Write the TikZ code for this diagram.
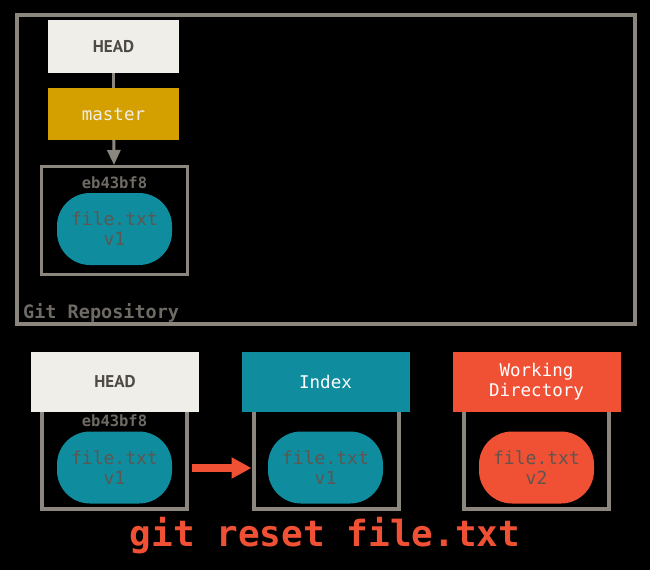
\documentclass[tikz,border=0pt]{standalone}
\usepackage{fontspec}
\setsansfont{PT Sans}
\setmonofont{DejaVu Sans Mono}
\usetikzlibrary{arrows.meta}

\definecolor{gitgray}{HTML}{8C877E}
\definecolor{headfill}{HTML}{F0EEE8}
\definecolor{headtext}{HTML}{4E4A45}
\definecolor{masterfill}{HTML}{D3A000}
\definecolor{teal}{HTML}{0F8C9E}
\definecolor{gitred}{HTML}{F05033}
\definecolor{blobtext}{HTML}{5E5650}
\definecolor{shagray}{HTML}{6E6A64}

\begin{document}
\begin{tikzpicture}[x=1pt,y=-1pt,
    lbl/.style={minimum width=168pt,minimum height=60pt,inner sep=0pt,
      font=\ttfamily\fontsize{17.5}{20}\selectfont,text=white,align=center},
    headlbl/.style={lbl,fill=headfill,text=headtext,
      font=\sffamily\bfseries\fontsize{17}{20}\selectfont},
    tree/.style={draw=gitgray,line width=4pt,minimum width=145pt,
      minimum height=114pt,inner sep=0pt},
    blob/.style={rectangle,rounded corners=33pt,minimum width=115pt,
      minimum height=72pt,inner sep=0pt,
      font=\ttfamily\fontsize{18}{20}\selectfont,text=blobtext,align=center},
    sha/.style={inner sep=0pt,font=\ttfamily\bfseries\fontsize{15.5}{15}\selectfont,text=shagray}]

  \fill[black] (0,0) rectangle (650,570);

  % repository
  \draw[gitgray,line width=4pt] (17,15) rectangle (635,324);
  \node[headlbl,minimum width=131pt,minimum height=53pt] (head) at (113.5,46.5) {HEAD};
  \node[lbl,fill=masterfill,text=headfill,minimum width=131pt,minimum height=52pt] (master) at (113.5,114) {master};
  \node[tree,line width=3pt,minimum width=146pt,minimum height=108pt] (commit) at (114.5,220.5) {};
  \node[sha] (csha) at (114.5,183) {eb43bf8};
  \node[blob,fill=teal] (cblob) at (114.5,229) {file.txt\\v1};
  \node[anchor=west,inner sep=0pt,font=\ttfamily\bfseries\fontsize{18.5}{18}\selectfont,text=shagray] (repo) at (23,313) {Git Repository};

  \draw[gitgray,line width=3pt] (head) -- (master);
  \draw[gitgray,line width=3pt,-{Triangle[length=15pt,width=13pt]}] (master) -- (commit);

  % three trees
  \node[tree] (htree) at (114.5,452) {};
  \node[tree] (itree) at (326,452) {};
  \node[tree] (wtree) at (536.5,452) {};

  \node[headlbl] (head2) at (115,382) {HEAD};
  \node[lbl,fill=teal] (index) at (325.5,382) {Index};
  \node[lbl,fill=gitred] (wd) at (536.5,382) {Working\\Directory};

  \node[sha] (hsha) at (114.5,421) {eb43bf8};
  \node[blob,fill=teal] (hblob) at (114.5,467.5) {file.txt\\v1};
  \node[blob,fill=teal] (iblob) at (325.5,467.5) {file.txt\\v1};
  \node[blob,fill=gitred] (wblob) at (536.5,467.5) {file.txt\\v2};

  \coordinate (start) at (192,468);
  \draw[gitred,line width=8pt,-{Triangle[length=20pt,width=20pt]}] (start) -- (itree.west |- start);

  \node[font=\ttfamily\bfseries\fontsize{36}{36}\selectfont,text=gitred] (cmd) at (325,536) {git reset file.txt};
\end{tikzpicture}
\end{document}
